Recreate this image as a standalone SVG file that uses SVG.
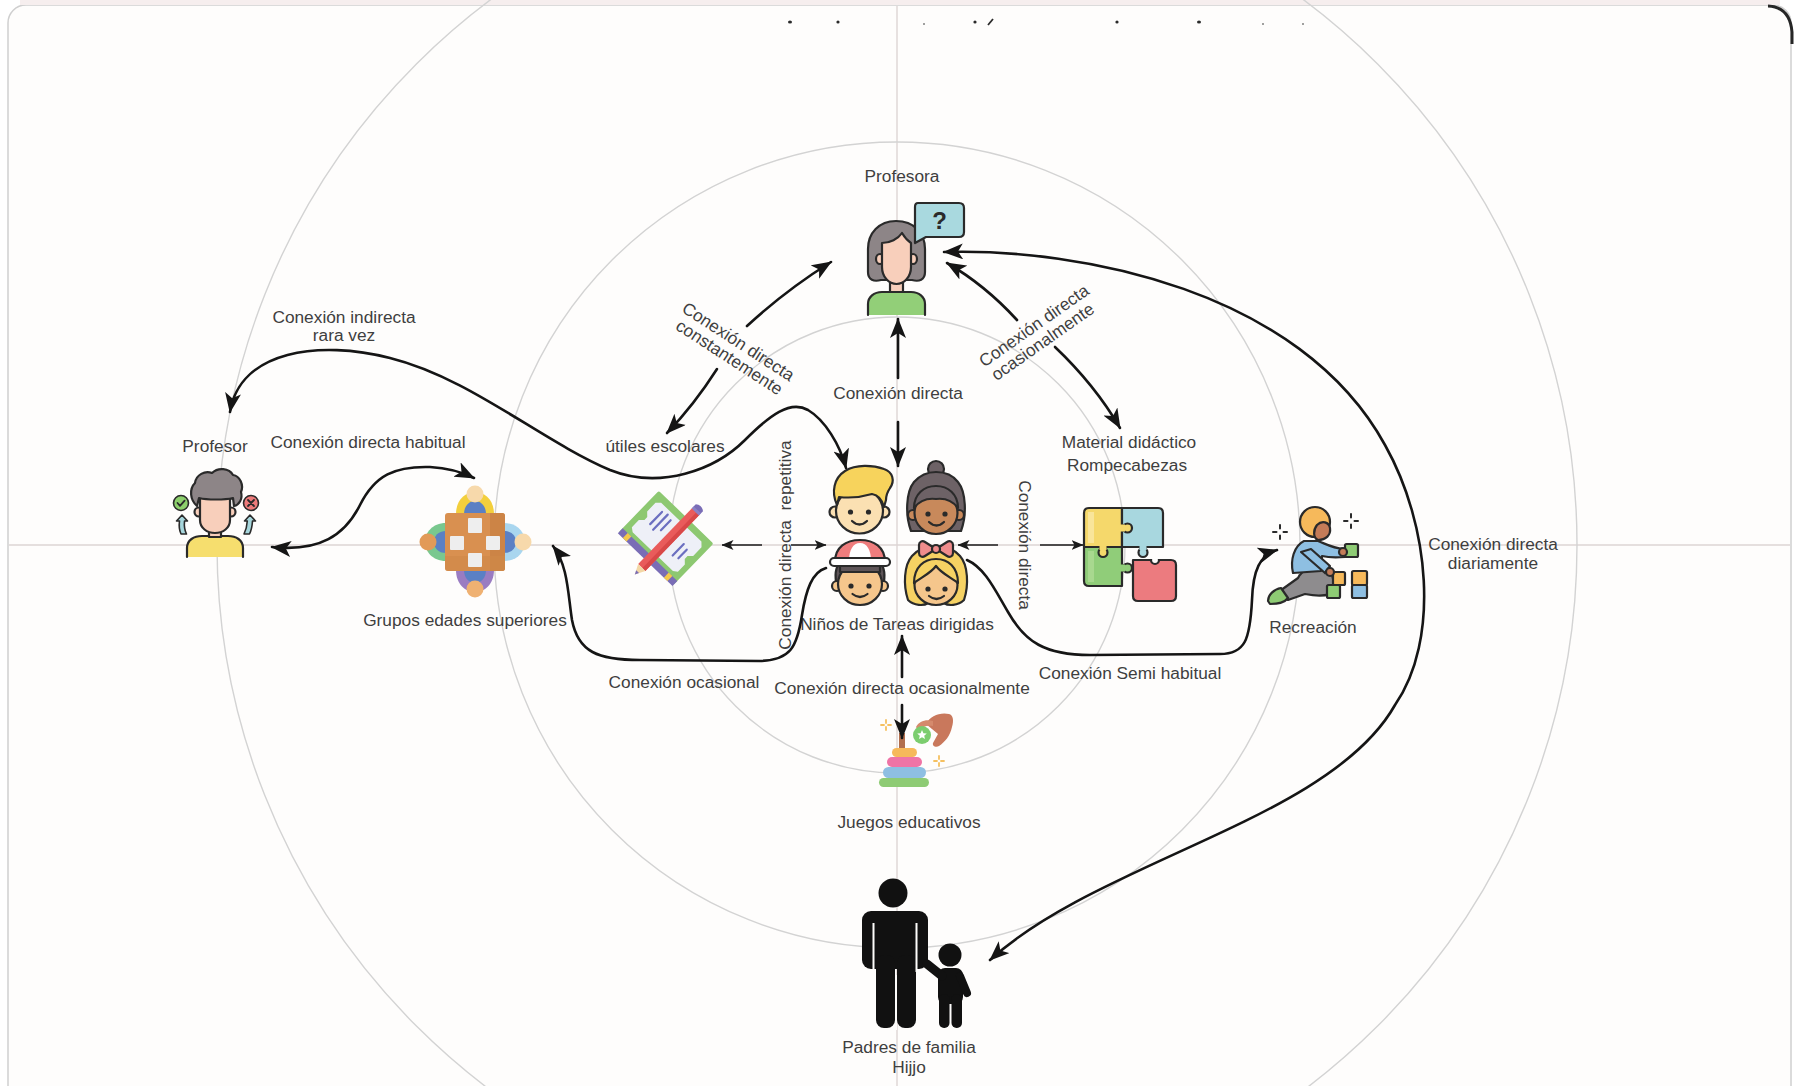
<svg xmlns="http://www.w3.org/2000/svg" width="1797" height="1086" viewBox="0 0 1797 1086">
<style>
  .lbl { font-family: "Liberation Sans", Arial, sans-serif; font-size: 17.3px; fill: #3f3f3f; }
  .mid { text-anchor: middle; }
  .pre { white-space: pre; }
  .ring { fill: none; stroke: #d3d3d3; stroke-width: 1.4; }
  .axis { stroke: #ddd5d5; stroke-width: 1.4; }
  .con { fill: none; stroke: #151515; stroke-width: 2.6; stroke-linecap: round; stroke-linejoin: round; }
  .thin { fill: none; stroke: #1b1b1b; stroke-width: 1.6; }
  .ol { stroke: #2a2a2a; stroke-width: 2.2; stroke-linejoin: round; stroke-linecap: round; }
  .ol2 { stroke: #2a2a2a; stroke-width: 1.6; stroke-linejoin: round; stroke-linecap: round; }
  .dot { fill: #2a2a2a; }
</style>
<defs>
  <marker id="ah" viewBox="0 0 20 16" refX="19" refY="8" markerWidth="20" markerHeight="16" markerUnits="userSpaceOnUse" orient="auto-start-reverse">
    <path d="M0,0 L20,8 L0,16 L5,8 Z" fill="#151515"/>
  </marker>
  <marker id="ahs" viewBox="0 0 12 10" refX="11.5" refY="5" markerWidth="12" markerHeight="10" markerUnits="userSpaceOnUse" orient="auto-start-reverse">
    <path d="M0,0 L12,5 L0,10 L3,5 Z" fill="#1b1b1b"/>
  </marker>
</defs>

<!-- page and card -->
<rect width="1797" height="1086" fill="#ffffff"/>
<rect x="8" y="5" width="1783" height="1110" rx="18" fill="#fefdfc" stroke="#cfcfcf" stroke-width="1.5"/>
<rect x="20" y="0" width="1760" height="5" fill="#f6eeee"/>
<path d="M1768,6 Q1790,7 1792,32 L1792,44" fill="none" stroke="#262626" stroke-width="3"/>

<!-- clipped heading remnants -->
<g id="heading-remnant">
  <ellipse class="dot" cx="790" cy="22" rx="2" ry="1.6"/>
  <ellipse class="dot" cx="838" cy="22" rx="1.6" ry="1.6"/>
  <ellipse class="dot" cx="924" cy="24" rx="0.8" ry="0.8"/>
  <ellipse class="dot" cx="975" cy="22" rx="1.6" ry="1.6"/>
  <path d="M988,25 L993,19" stroke="#2a2a2a" stroke-width="1.8"/>
  <ellipse class="dot" cx="1117" cy="22" rx="1.6" ry="1.6"/>
  <ellipse class="dot" cx="1199" cy="22" rx="2" ry="1.6"/>
  <ellipse class="dot" cx="1263" cy="24" rx="0.8" ry="0.8"/>
  <ellipse class="dot" cx="1303" cy="24" rx="0.8" ry="0.8"/>
</g>

<!-- concentric rings and axes -->
<g id="rings">
  <line class="axis" x1="9" y1="545" x2="1790" y2="545"/>
  <line class="axis" x1="897" y1="6" x2="897" y2="1086" stroke="#d9d9d9"/>
  <circle class="ring" cx="897" cy="545" r="228"/>
  <circle class="ring" cx="897" cy="545" r="403"/>
  <circle class="ring" cx="897" cy="545" r="680"/>
</g>

<!-- Profesora -->
<g id="profesora">
  <text class="lbl mid" x="902" y="182">Profesora</text>
  <path class="ol" fill="#92cf78" d="M868,315 V304 C868,297 874,292 882,292 H911 C919,292 925,297 925,304 V315"/>
  <path class="ol" fill="#8d8587" d="M896,221 C879,221 868,233 868,249 L868,272 C868,280 874,282 881,280 L912,280 C919,282 925,280 925,272 L925,249 C925,233 914,221 896,221 Z"/>
  <rect class="ol" fill="#f8cfbb" x="890" y="281" width="13" height="11"/>
  <ellipse class="ol" fill="#f8cfbb" cx="880" cy="259" rx="4" ry="5"/>
  <ellipse class="ol" fill="#f8cfbb" cx="913" cy="259" rx="4" ry="5"/>
  <path class="ol" fill="#f8cfbb" d="M882,243 C890,243 898,239 902,233 C905,238 908,241 911,243 V267 C911,277 904,284 896.5,284 C889,284 882,277 882,267 Z"/>
  <path class="ol" fill="#a9d9df" d="M918,203 H959 Q964,203 964,208 V232 Q964,237 959,237 H926 L915,243 L915,207 Q915,203 918,203 Z"/>
  <text x="939.5" y="229" font-family="Liberation Sans, Arial, sans-serif" font-weight="bold" font-size="24" text-anchor="middle" fill="#2a2a2a">?</text>
</g>

<!-- Profesor -->
<g id="profesor">
  <text class="lbl mid" x="215" y="452">Profesor</text>
  <path class="ol" fill="#f6de6e" d="M187,557 V548 C187,540 194,536 202,536 H228 C236,536 243,540 243,548 V557"/>
  <rect class="ol" fill="#f8cfbb" x="209" y="528" width="12" height="9"/>
  <circle class="ol" fill="#f8cfbb" cx="199" cy="512" r="4.5"/>
  <circle class="ol" fill="#f8cfbb" cx="231" cy="512" r="4.5"/>
  <path class="ol" fill="#f8cfbb" d="M200,494 H230 V520 C230,528 223,533 215,533 C207,533 200,528 200,520 Z"/>
  <path class="ol" fill="#8d8587" d="M197,506 C190,500 189,489 195,483 C196,475 205,470 212,473 C218,467 229,468 233,475 C240,476 244,485 241,492 C243,499 239,505 234,506 L233,498 C225,500 207,500 199,498 Z"/>
  <circle class="ol2" fill="#8ccf6c" cx="181" cy="503" r="7.5"/>
  <path d="M177.5,503 L180,505.8 L184.6,500.6" fill="none" stroke="#2a2a2a" stroke-width="1.8" stroke-linecap="round" stroke-linejoin="round"/>
  <circle class="ol2" fill="#ec7b7b" cx="251" cy="503" r="7.5"/>
  <path d="M248,500 L254,506 M254,500 L248,506" fill="none" stroke="#2a2a2a" stroke-width="1.8" stroke-linecap="round"/>
  <path class="ol2" fill="#a6d6dc" d="M182,515 L187.5,521 L184.5,521 C184,526 184.5,530 186.5,534 L181,534 C179.2,530 178.8,526 179.5,521 L176.5,521 Z"/>
  <path class="ol2" fill="#a6d6dc" d="M250,515 L255.5,521 L252.5,521 C252.2,526 251.5,530 249.5,534 L244,534 C246,530 247,526 247.3,521 L244.5,521 Z"/>
</g>

<!-- Grupos edades superiores -->
<g id="grupos">
  <text class="lbl mid" x="465" y="626">Grupos edades superiores</text>
  <path fill="#f3cf3c" d="M456,514 C456,500 465,492 475,492 C485,492 494,500 494,514 Z"/>
  <path fill="#5b80c4" d="M464,514 C464,506 469,501 475,501 C481,501 486,506 486,514 Z"/>
  <circle fill="#f7d9ab" cx="475" cy="494" r="8.5"/>
  <path fill="#9a7cc2" d="M456,570 C456,584 465,592 475,592 C485,592 494,584 494,570 Z"/>
  <path fill="#5b80c4" d="M464,570 C464,578 469,583 475,583 C481,583 486,578 486,570 Z"/>
  <circle fill="#efb172" cx="475" cy="589" r="8.5"/>
  <path fill="#79c88f" d="M446,523 C432,523 425,533 425,542 C425,551 432,561 446,561 Z"/>
  <path fill="#5b80c4" d="M446,531 C438,531 434,536 434,542 C434,548 438,553 446,553 Z"/>
  <circle fill="#e29a58" cx="428" cy="542" r="8.5"/>
  <path fill="#a9d6ef" d="M504,523 C518,523 525,533 525,542 C525,551 518,561 504,561 Z"/>
  <path fill="#5b80c4" d="M504,531 C512,531 516,536 516,542 C516,548 512,553 504,553 Z"/>
  <circle fill="#f7d9ab" cx="523" cy="542" r="8.5"/>
  <rect x="445" y="513" width="60" height="58" rx="3" fill="#d99050"/>
  <path d="M490,513 H502 Q505,513 505,516 V568 Q505,571 502,571 H490 Z" fill="#cc8446"/>
  <path d="M445,556 H505 V568 Q505,571 502,571 H448 Q445,571 445,568 Z" fill="#cf8848" opacity="0.6"/>
  <rect x="468" y="518" width="14" height="15" rx="1" fill="#eeeeee"/>
  <rect x="450" y="536" width="14" height="14" rx="1" fill="#eeeeee"/>
  <rect x="486" y="536" width="14" height="14" rx="1" fill="#eeeeee"/>
  <rect x="468" y="553" width="14" height="14" rx="1" fill="#eeeeee"/>
</g>

<!-- Útiles escolares -->
<g id="utiles">
  <text class="lbl mid" x="665" y="452">útiles escolares</text>
  <g transform="translate(666,538) rotate(44)">
    <rect x="-38" y="-29" width="76" height="58" rx="2" fill="#8dc871"/>
    <rect x="-38" y="23" width="76" height="7" fill="#7a6db6"/>
    <rect x="-31" y="23" width="5" height="7" fill="#f5c84a"/>
    <rect x="26" y="23" width="5" height="7" fill="#f5c84a"/>
    <path d="M-28,-22 H28 L32,-18 V-6 L28,-2 V2 L32,6 V16 L28,19 H-28 L-32,16 V6 L-28,2 V-2 L-32,-6 V-18 Z" fill="#eef0f7"/>
    <path d="M-21,-16 V1 M-15,-18 V3 M-9,-16 V-2 M17,-8 V8 M23,-6 V6" stroke="#6b6fc0" stroke-width="2.2" stroke-linecap="round"/>
    <rect x="-2" y="-40" width="10" height="78" fill="#e95b5b"/>
    <rect x="4" y="-40" width="4" height="78" fill="#d84848"/>
    <path d="M-2,-40 V-45 Q3,-49 8,-45 V-40 Z" fill="#7a6db6"/>
    <rect x="-2" y="-42" width="10" height="3" fill="#8b80c4"/>
    <path d="M-2,38 H8 L3,48 Z" fill="#f3d7a5"/>
    <path d="M1,44 H5 L3,48 Z" fill="#7a6db6"/>
  </g>
</g>

<!-- Niños de Tareas dirigidas -->
<g id="ninos">
  <text class="lbl mid" x="897" y="630">Niños de Tareas dirigidas</text>
  <!-- boy, top left -->
  <circle class="ol" fill="#fbe0b2" cx="835" cy="512" r="5.5"/>
  <circle class="ol" fill="#fbe0b2" cx="884" cy="512" r="5.5"/>
  <ellipse class="ol" fill="#fbe0b2" cx="859.5" cy="511" rx="23.5" ry="22.5"/>
  <path class="ol" fill="#f7d35c" d="M837,505 C831,492 834,478 845,471 C856,464 873,465 884,469 C893,472 895,481 890,488 C888,491 886,494 886,500 L884,507 C882,499 878,495 872,494 C862,497 848,498 839,497 Z"/>
  <circle class="dot" cx="850.5" cy="512" r="2.6"/>
  <circle class="dot" cx="868.5" cy="512" r="2.6"/>
  <path d="M852,521 Q859.5,528 867,521" fill="none" stroke="#2a2a2a" stroke-width="2.2" stroke-linecap="round"/>
  <!-- girl, top right -->
  <circle class="ol" fill="#6d6266" cx="936" cy="469" r="8"/>
  <path class="ol" fill="#6d6266" d="M911,531 C905,515 906,492 914,482 C921,474 929,472 936,472 C944,472 952,474 958,482 C966,492 967,515 961,531 Z"/>
  <circle class="ol" fill="#c8895b" cx="913" cy="515" r="5"/>
  <circle class="ol" fill="#c8895b" cx="959" cy="515" r="5"/>
  <ellipse class="ol" fill="#c8895b" cx="936" cy="513" rx="21.5" ry="21"/>
  <path class="ol" fill="#6d6266" d="M914,508 C914,494 924,486 936,486 C948,486 958,494 958,508 C952,500 944,498 936,499 C928,498 920,500 914,508 Z"/>
  <circle class="dot" cx="928" cy="514" r="2.6"/>
  <circle class="dot" cx="945" cy="514" r="2.6"/>
  <path d="M929,522 Q936.5,529 944,522" fill="none" stroke="#2a2a2a" stroke-width="2.2" stroke-linecap="round"/>
  <!-- boy with cap, bottom left -->
  <path class="ol" fill="#5e5558" d="M837,586 C834,574 836,567 840,563 L880,563 C884,567 886,574 883,586 Z"/>
  <circle class="ol" fill="#f5c68c" cx="837" cy="586" r="5"/>
  <circle class="ol" fill="#f5c68c" cx="883" cy="586" r="5"/>
  <ellipse class="ol" fill="#f5c68c" cx="860" cy="584" rx="22" ry="21"/>
  <rect class="ol" fill="#5e5558" x="840" y="564" width="40" height="8"/>
  <path class="ol" fill="#ef7d7d" d="M835,562 C835,547 846,540 860,540 C874,540 885,547 885,562 Z"/>
  <path fill="#ffffff" d="M849,561 C849,550 853,543 860,543 C867,543 871,550 871,561 Z"/>
  <rect class="ol" fill="#ffffff" x="830" y="558" width="60" height="8" rx="4"/>
  <circle class="dot" cx="851" cy="586" r="2.6"/>
  <circle class="dot" cx="869" cy="586" r="2.6"/>
  <path d="M852.5,594 Q860,600 867.5,594" fill="none" stroke="#2a2a2a" stroke-width="2.2" stroke-linecap="round"/>
  <!-- girl with bow, bottom right -->
  <path class="ol" fill="#f6d263" d="M908,600 C903,585 904,565 912,556 C918,549 927,546 936,546 C945,546 954,549 960,556 C968,565 969,585 964,600 C958,606 948,606 944,603 L928,603 C924,606 914,606 908,600 Z"/>
  <ellipse class="ol" fill="#f5c68c" cx="936" cy="585" rx="21.5" ry="20"/>
  <path class="ol" fill="#f6d263" d="M914,583 C914,567 924,559 936,559 C948,559 958,567 958,583 C950,577 941,573 936,566 C931,573 922,577 914,583 Z"/>
  <path class="ol" fill="#f08c8c" d="M936,549 L925,542 C922,540 919,542 919,545 L919,553 C919,556 922,558 925,556 Z"/>
  <path class="ol" fill="#f08c8c" d="M936,549 L947,542 C950,540 953,542 953,545 L953,553 C953,556 950,558 947,556 Z"/>
  <circle class="ol" fill="#f08c8c" cx="936" cy="549" r="4"/>
  <circle class="dot" cx="928" cy="589" r="2.6"/>
  <circle class="dot" cx="945" cy="589" r="2.6"/>
  <path d="M929,596 Q936.5,602 944,596" fill="none" stroke="#2a2a2a" stroke-width="2.2" stroke-linecap="round"/>
</g>

<!-- Material didáctico / Rompecabezas -->
<g id="material">
  <text class="lbl mid" x="1129" y="448">Material didáctico</text>
  <text class="lbl mid" x="1127" y="471">Rompecabezas</text>
  <path class="ol" fill="#f5d86b" d="M1089,508 H1122 V547 H1084 V513 Q1084,508 1089,508 Z"/>
  <path class="ol" fill="#a8d7df" d="M1122,508 H1158 Q1163,508 1163,513 V547 H1122 Z"/>
  <path class="ol" fill="#90cd79" d="M1084,547 H1122 V586 H1089 Q1084,586 1084,581 Z"/>
  <path class="ol" fill="#ec7b7f" d="M1133,560 H1171 Q1176,560 1176,565 V596 Q1176,601 1171,601 H1138 Q1133,601 1133,596 Z"/>
  <rect x="1088" y="512" width="6" height="31" fill="#f9e59a"/>
  <rect x="1088" y="551" width="6" height="31" fill="#a8d88f"/>
  <circle class="ol" fill="#f5d86b" cx="1127.5" cy="528" r="4.5"/>
  <rect x="1119" y="524.5" width="6" height="7" fill="#f5d86b"/>
  <circle class="ol" fill="#f5d86b" cx="1103" cy="552.5" r="4.5"/>
  <rect x="1099.5" y="544" width="7" height="6" fill="#f5d86b"/>
  <circle class="ol" fill="#a8d7df" cx="1143" cy="552.5" r="4.5"/>
  <rect x="1139.5" y="544" width="7" height="6" fill="#a8d7df"/>
  <circle class="ol" fill="#90cd79" cx="1127.5" cy="568" r="4.5"/>
  <rect x="1119" y="564.5" width="6" height="7" fill="#90cd79"/>
  <circle class="ol" fill="#fefdfc" cx="1155" cy="560" r="4"/>
  <rect x="1150" y="555" width="10" height="4" fill="#fefdfc"/>
</g>

<!-- Recreación -->
<g id="recreacion">
  <text class="lbl mid" x="1313" y="633">Recreación</text>
  <path d="M1280,525 V528.5 M1280,535.5 V539 M1273,532 H1276.5 M1283.5,532 H1287" stroke="#2a2a2a" stroke-width="2" stroke-linecap="round"/>
  <path d="M1351,514 V517.5 M1351,524.5 V528 M1344,521 H1347.5 M1354.5,521 H1358" stroke="#2a2a2a" stroke-width="2" stroke-linecap="round"/>
  <path class="ol" fill="#8e8c8e" d="M1277,593 L1298,578 C1302,570 1312,566 1322,568 L1332,575 L1336,590 C1330,597 1315,596 1305,594 L1288,600 Z"/>
  <path class="ol" fill="#8ecb74" d="M1268,601 C1268,595 1274,589 1281,588 L1288,598 C1285,602 1277,604 1270,604 Z"/>
  <path class="ol" fill="#8ebfe2" d="M1293,573 C1290,560 1294,546 1304,541 L1318,541 C1326,544 1332,548 1344,549 L1345,557 C1334,558 1326,557 1322,556 L1321,571 Z"/>
  <path class="ol" fill="#8ebfe2" d="M1301,552 L1311,549 L1330,566 L1325,573 Z"/>
  <rect class="ol" fill="#8ecb74" x="1345" y="544" width="13" height="13" rx="1.5"/>
  <circle class="ol" fill="#c47c58" cx="1343" cy="552" r="4"/>
  <rect class="ol" fill="#f6b95b" x="1333" y="572" width="12" height="13" rx="1.5"/>
  <rect class="ol" fill="#8ecb74" x="1327" y="585" width="13" height="13" rx="1.5"/>
  <rect class="ol" fill="#f6b95b" x="1352" y="571" width="15" height="14" rx="1.5"/>
  <rect class="ol" fill="#8ebfe2" x="1352" y="585" width="15" height="13" rx="1.5"/>
  <circle class="ol" fill="#c47c58" cx="1330" cy="572" r="4"/>
  <circle class="ol" fill="#f6b95b" cx="1315" cy="522" r="15"/>
  <path class="ol" fill="#c47c58" d="M1317,525 C1322,520 1329,522 1330,528 C1331,535 1326,540 1318,540 C1313,538 1313,530 1317,525 Z"/>
</g>

<!-- Juegos educativos -->
<g id="juegos">
  <text class="lbl mid" x="909" y="828">Juegos educativos</text>
  <rect x="899" y="733" width="6" height="48" fill="#b26f4e"/>
  <rect x="879" y="778" width="50" height="9" rx="4.5" fill="#8ecb74"/>
  <rect x="883" y="767" width="43" height="11" rx="5.5" fill="#8ebfe2"/>
  <rect x="887" y="757" width="35" height="10" rx="5" fill="#ef74a6"/>
  <rect x="892" y="748" width="25" height="9" rx="4.5" fill="#f6b95b"/>
  <!-- hand holding the ring -->
  <path d="M926,724 C930,716 940,712 949,714 C953,715 954,720 952,727 C950,736 945,742 939,746 C936,748 932,746 933,743 L938,734 Z" fill="#c9785c"/>
  <path d="M916,727 C919,721 926,719 933,721 L933,726 C927,725 921,727 918,731 Z" fill="#d58a6c"/>
  <circle cx="922" cy="735" r="9" fill="#7ccd6e"/>
  <path d="M922,730 L923.4,733.3 L926.8,733.5 L924.2,735.7 L925,739 L922,737.2 L919,739 L919.8,735.7 L917.2,733.5 L920.6,733.3 Z" fill="#ffffff"/>
  <path d="M886,720 V723 M886,727 V730 M881,725 H884 M888,725 H891" stroke="#f5c060" stroke-width="1.8" stroke-linecap="round"/>
  <path d="M939,756 V759 M939,763 V766 M934,761 H937 M941,761 H944" stroke="#f5c060" stroke-width="1.8" stroke-linecap="round"/>
</g>

<!-- Padres de familia / Hijo -->
<g id="padres">
  <text class="lbl mid" x="909" y="1053">Padres de familia</text>
  <text class="lbl mid" x="909" y="1073">Hijjo</text>
  <g fill="#111111">
    <circle cx="893" cy="893" r="14.5"/>
    <rect x="862" y="911" width="66" height="58" rx="9"/>
    <rect x="876" y="955" width="19" height="73" rx="8"/>
    <rect x="897" y="955" width="19" height="73" rx="8"/>
    <circle cx="950" cy="955" r="11.5"/>
    <rect x="938" y="968" width="25" height="36" rx="7"/>
    <rect x="939" y="994" width="10.5" height="34" rx="5"/>
    <rect x="951.5" y="994" width="10.5" height="34" rx="5"/>
    <path d="M942,976 L927,964" stroke="#111111" stroke-width="9" stroke-linecap="round"/>
    <path d="M960,976 L967,993" stroke="#111111" stroke-width="8" stroke-linecap="round"/>
  </g>
  <path d="M873.5,923 V972 M916.5,923 V972 M896,975 V1030" stroke="#fefdfc" stroke-width="2"/>
</g>

<!-- connectors -->
<g id="connectors">
  <!-- Profesora <-> útiles escolares -->
  <path class="con" marker-end="url(#ah)" d="M747,326 Q786,290 831,262"/>
  <path class="con" marker-end="url(#ah)" d="M717,369 Q694,405 667,433"/>
  <!-- Profesora <-> Material didáctico -->
  <path class="con" marker-end="url(#ah)" d="M1017,320 Q985,285 947,263"/>
  <path class="con" marker-end="url(#ah)" d="M1055,347 Q1095,385 1120,428"/>
  <!-- Profesora <-> Niños -->
  <path class="con" marker-end="url(#ah)" d="M898,378 V319"/>
  <path class="con" marker-end="url(#ah)" d="M898,422 V466"/>
  <!-- Profesora <-> Padres -->
  <path class="con" marker-start="url(#ah)" marker-end="url(#ah)" d="M944,252 C1080,248 1300,290 1385,445 C1430,525 1440,640 1395,705 C1330,820 1100,860 990,960"/>
  <!-- Profesor <-> Niños -->
  <path class="con" marker-start="url(#ah)" marker-end="url(#ah)" d="M230,412 C240,350 320,340 390,358 C470,378 540,440 610,470 C660,490 715,470 745,440 C770,415 790,400 808,410 C825,420 840,445 846,468"/>
  <!-- Profesor <-> Grupos -->
  <path class="con" marker-start="url(#ah)" marker-end="url(#ah)" d="M272,547 C320,552 345,535 360,505 C375,475 395,466 430,467 C448,468 462,472 474,478"/>
  <!-- Niños <-> útiles -->
  <path class="thin" marker-end="url(#ahs)" d="M762,545 H722"/>
  <path class="thin" marker-end="url(#ahs)" d="M791,545 H826"/>
  <!-- Niños <-> Rompecabezas -->
  <path class="thin" marker-end="url(#ahs)" d="M998,545 H958"/>
  <path class="thin" marker-end="url(#ahs)" d="M1040,545 H1083"/>
  <!-- Niños -> Grupos -->
  <path class="con" marker-end="url(#ah)" d="M826,568 C812,572 806,590 802,615 C797,648 790,660 760,661 L640,660 C598,660 578,652 572,620 C568,595 568,565 553,546"/>
  <!-- Niños -> Recreación -->
  <path class="con" marker-end="url(#ah)" d="M967,560 C985,568 995,590 1008,612 C1025,642 1045,655 1090,655 L1220,654 C1245,654 1250,640 1252,600 C1253,570 1260,555 1277,550"/>
  <!-- Niños <-> Juegos -->
  <path class="con" marker-end="url(#ah)" d="M902,677 V636"/>
  <path class="con" marker-end="url(#ah)" d="M902,705 V738"/>

  <!-- connector labels -->
  <text class="lbl mid" x="898" y="399">Conexión directa</text>
  <g transform="translate(733.5,349) rotate(33)">
    <text class="lbl mid" x="0" y="-3">Conexión directa</text>
    <text class="lbl mid" x="1" y="15">constantemente</text>
  </g>
  <g transform="translate(1039,333) rotate(-35)">
    <text class="lbl mid" x="0" y="-3">Conexión directa</text>
    <text class="lbl mid" x="-2" y="15">ocasionalmente</text>
  </g>
  <text class="lbl mid" x="344" y="323">Conexión indirecta</text>
  <text class="lbl mid" x="344" y="341">rara vez</text>
  <text class="lbl mid" x="368" y="448">Conexión directa habitual</text>
  <text class="lbl mid pre" transform="translate(791,545) rotate(-90)">Conexión directa  repetitiva</text>
  <text class="lbl mid" transform="translate(1019,545) rotate(90)">Conexión directa</text>
  <text class="lbl mid" x="684" y="688">Conexión ocasional</text>
  <text class="lbl mid" x="902" y="694">Conexión directa ocasionalmente</text>
  <text class="lbl mid" x="1130" y="679">Conexión Semi habitual</text>
  <text class="lbl mid" x="1493" y="550">Conexión directa</text>
  <text class="lbl mid" x="1493" y="569">diariamente</text>
</g>
</svg>
